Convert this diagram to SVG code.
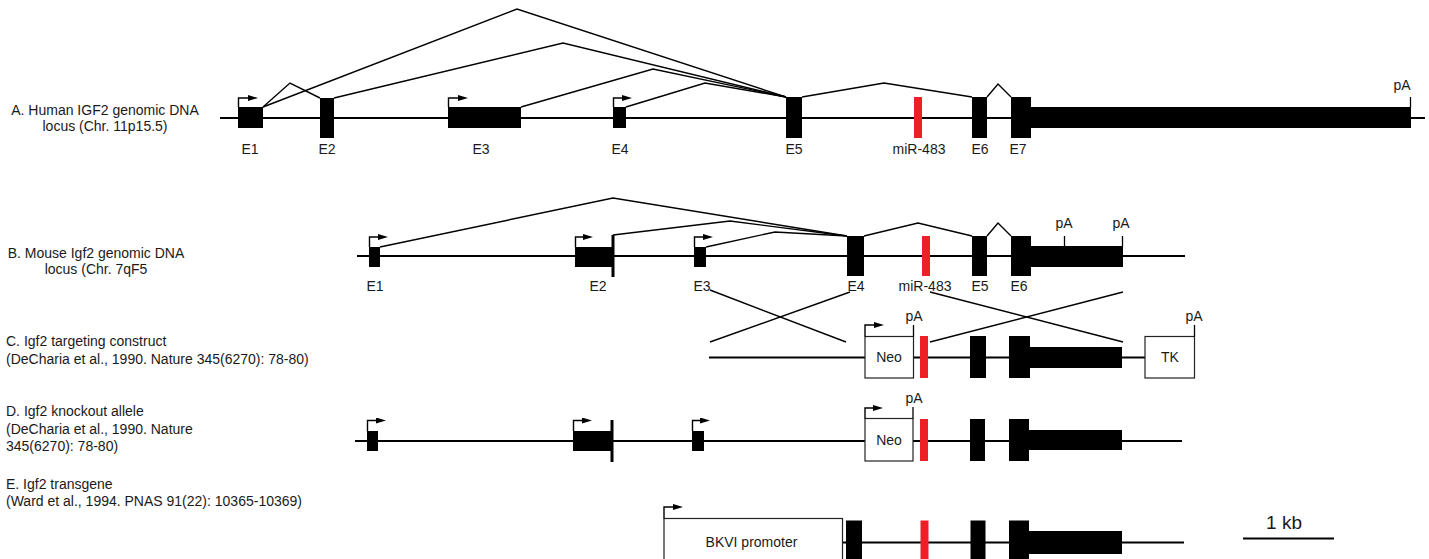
<svg xmlns="http://www.w3.org/2000/svg" width="1429" height="559" viewBox="0 0 1429 559">
<defs>
<marker id="ah" markerUnits="userSpaceOnUse" markerWidth="10" markerHeight="6" viewBox="0 0 10 6" refX="0" refY="3" orient="auto">
<path d="M0,0 L10,3 L0,6 z" fill="#000"/>
</marker>
<style>
.bb{fill:#000}
.mir{fill:#ee2027}
.ln{stroke:#000;stroke-width:2;fill:none}
.sp{stroke:#000;stroke-width:1.4;fill:none;stroke-linejoin:miter}
.tick{stroke:#000;stroke-width:1.3;fill:none}
.bar{stroke:#000;stroke-width:3;fill:none}
.arr{stroke:#000;stroke-width:1.4;fill:none;marker-end:url(#ah)}
.box{fill:#fff;stroke:#222;stroke-width:1.2}
.t{font-family:"Liberation Sans",Arial,sans-serif;font-size:14px;fill:#1a1a1a}
.m{text-anchor:middle}
</style>
</defs>
<rect width="1429" height="559" fill="#fff"/>

<!-- Row labels -->
<g id="label-A"><text class="t m" x="105" y="115">A. Human IGF2 genomic DNA</text><text class="t m" x="105" y="131">locus (Chr. 11p15.5)</text></g>
<g id="label-B"><text class="t m" x="96" y="258">B. Mouse Igf2 genomic DNA</text><text class="t m" x="96" y="274">locus (Chr. 7qF5</text></g>
<g id="label-C"><text class="t" x="6" y="346">C. Igf2 targeting construct</text><text class="t" x="6" y="364">(DeCharia et al., 1990. Nature 345(6270): 78-80)</text></g>
<g id="label-D"><text class="t" x="6" y="416">D. Igf2 knockout allele</text><text class="t" x="6" y="433.5">(DeCharia et al., 1990. Nature</text><text class="t" x="6" y="451">345(6270): 78-80)</text></g>
<g id="label-E"><text class="t" x="6" y="488.5">E. Igf2 transgene</text><text class="t" x="6" y="506">(Ward et al., 1994. PNAS 91(22): 10365-10369)</text></g>

<!-- Connectors: splicing and recombination lines -->
<g id="connectors">
<path class="sp" d="M263,107 L290,83 L320,98"/>
<path class="sp" d="M263,107 L517,9 L786,97"/>
<path class="sp" d="M334,98 L563,43 L786,97"/>
<path class="sp" d="M521,107 L653,69 L786,97"/>
<path class="sp" d="M626,107 L705,83 L786,97"/>
<path class="sp" d="M802,97 L884,83 L972,97"/>
<path class="sp" d="M987,97 L998,84 L1011,97"/>
<path class="sp" d="M380,247 L613,198 L847,236"/>
<path class="sp" d="M613,235 L730,221 L847,236"/>
<path class="sp" d="M706,247 L775,232 L847,236"/>
<path class="sp" d="M864,236 L918,223 L972,236"/>
<path class="sp" d="M987,236 L998,223 L1011,236"/>
<path class="sp" d="M710,290 L846,342"/>
<path class="sp" d="M850,292 L710,342"/>
<path class="sp" d="M930,292 L1123,342"/>
<path class="sp" d="M1123,292 L930,342"/>
</g>

<!-- Row A -->
<g id="rowA">
<line class="ln" x1="220" y1="118" x2="1425" y2="118"/>
<g id="A-E1"><rect class="bb" x="238" y="107" width="25" height="21"/><path class="arr" d="M238.5,107 V98 H248"/><text class="t m" x="250" y="154">E1</text></g>
<g id="A-E2"><rect class="bb" x="320" y="98" width="14" height="40"/><text class="t m" x="327" y="154">E2</text></g>
<g id="A-E3"><rect class="bb" x="448" y="107" width="73" height="21"/><path class="arr" d="M448.5,107 V98 H458"/><text class="t m" x="481" y="154">E3</text></g>
<g id="A-E4"><rect class="bb" x="613" y="107" width="13" height="21"/><path class="arr" d="M613.5,107 V98 H622"/><text class="t m" x="620" y="154">E4</text></g>
<g id="A-E5"><rect class="bb" x="786" y="97" width="16" height="41"/><text class="t m" x="794" y="154">E5</text></g>
<g id="A-miR"><rect class="mir" x="914" y="97" width="8" height="41"/><text class="t m" x="919" y="154">miR-483</text></g>
<g id="A-E6"><rect class="bb" x="972" y="97" width="15" height="41"/><text class="t m" x="980" y="154">E6</text></g>
<g id="A-E7"><rect class="bb" x="1011" y="97" width="20" height="41"/><rect class="bb" x="1030" y="107" width="381" height="21"/><text class="t m" x="1018" y="154">E7</text></g>
<g id="A-pA"><line class="tick" x1="1410.5" y1="97" x2="1410.5" y2="108"/><text class="t m" x="1402" y="90">pA</text></g>
</g>

<!-- Row B -->
<g id="rowB">
<line class="ln" x1="357" y1="256" x2="1185" y2="256"/>
<g id="B-E1"><rect class="bb" x="369" y="247" width="11" height="20"/><path class="arr" d="M369.5,247 V237 H378"/><text class="t m" x="375" y="291">E1</text></g>
<g id="B-E2"><rect class="bb" x="575" y="247" width="37" height="20"/><line class="bar" x1="613" y1="235" x2="613" y2="277"/><path class="arr" d="M575.5,247 V237 H583"/><text class="t m" x="598" y="291">E2</text></g>
<g id="B-E3"><rect class="bb" x="694" y="247" width="12" height="20"/><path class="arr" d="M694.5,247 V237 H703"/><text class="t m" x="702" y="291">E3</text></g>
<g id="B-E4"><rect class="bb" x="847" y="236" width="17" height="40"/><text class="t m" x="856" y="291">E4</text></g>
<g id="B-miR"><rect class="mir" x="922" y="236" width="8" height="40"/><text class="t m" x="925" y="291">miR-483</text></g>
<g id="B-E5"><rect class="bb" x="972" y="236" width="15" height="40"/><text class="t m" x="980" y="291">E5</text></g>
<g id="B-E6"><rect class="bb" x="1011" y="236" width="20" height="40"/><rect class="bb" x="1030" y="246" width="93" height="21"/><text class="t m" x="1019" y="291">E6</text></g>
<g id="B-pA1"><line class="tick" x1="1064.5" y1="236" x2="1064.5" y2="247"/><text class="t m" x="1064" y="228">pA</text></g>
<g id="B-pA2"><line class="tick" x1="1122.5" y1="236" x2="1122.5" y2="247"/><text class="t m" x="1121" y="228">pA</text></g>
</g>

<!-- Row C -->
<g id="rowC">
<line class="ln" x1="709" y1="357.5" x2="1145" y2="357.5"/>
<g id="C-Neo"><rect class="box" x="865" y="336.5" width="48.5" height="41.5"/><text class="t m" x="889" y="362">Neo</text><path class="arr" d="M865,336.5 V325 H874"/><line class="tick" x1="913.5" y1="336.5" x2="913.5" y2="325"/><text class="t m" x="914" y="320.5">pA</text></g>
<g id="C-miR"><rect class="mir" x="920" y="336" width="8" height="42"/></g>
<g id="C-E5"><rect class="bb" x="970" y="336" width="16" height="42"/></g>
<g id="C-E6"><rect class="bb" x="1009" y="336" width="21" height="42"/><rect class="bb" x="1029" y="347" width="93" height="21"/></g>
<g id="C-TK"><rect class="box" x="1145" y="336.5" width="49.5" height="41.5"/><text class="t m" x="1170" y="362">TK</text><line class="tick" x1="1194.5" y1="336.5" x2="1194.5" y2="325"/><text class="t m" x="1194" y="320.5">pA</text></g>
</g>

<!-- Row D -->
<g id="rowD">
<line class="ln" x1="355" y1="441" x2="1182" y2="441"/>
<g id="D-E1"><rect class="bb" x="367" y="431" width="11" height="20"/><path class="arr" d="M367.5,431 V420.5 H376"/></g>
<g id="D-E2"><rect class="bb" x="573" y="431" width="38" height="20"/><line class="bar" x1="612" y1="420" x2="612" y2="462"/><path class="arr" d="M573.5,431 V420.5 H582"/></g>
<g id="D-E3"><rect class="bb" x="692" y="431" width="12" height="20"/><path class="arr" d="M692.5,431 V420.5 H700"/></g>
<g id="D-Neo"><rect class="box" x="865" y="418.5" width="48" height="42.5"/><text class="t m" x="889" y="445">Neo</text><path class="arr" d="M865,418.5 V408 H873"/><line class="tick" x1="913" y1="418.5" x2="913" y2="407"/><text class="t m" x="914" y="403">pA</text></g>
<g id="D-miR"><rect class="mir" x="920" y="419" width="8" height="42"/></g>
<g id="D-E5"><rect class="bb" x="970" y="419" width="15" height="42"/></g>
<g id="D-E6"><rect class="bb" x="1009" y="419" width="20" height="42"/><rect class="bb" x="1028" y="430" width="94" height="20"/></g>
</g>

<!-- Row E -->
<g id="rowE">
<line class="ln" x1="842" y1="542.5" x2="1184" y2="542.5"/>
<g id="E-BKVI"><rect class="box" x="664" y="518.5" width="178.5" height="60"/><text class="t m" x="751.5" y="547">BKVI promoter</text><path class="arr" d="M664,518.5 V507 H673"/></g>
<g id="E-E4"><rect class="bb" x="846" y="520.5" width="16" height="50"/></g>
<g id="E-miR"><rect class="mir" x="920.5" y="520.5" width="8" height="50"/></g>
<g id="E-E5"><rect class="bb" x="970.5" y="520.5" width="15" height="50"/></g>
<g id="E-E6"><rect class="bb" x="1009" y="520.5" width="20" height="50"/><rect class="bb" x="1028" y="531" width="94" height="23"/></g>
</g>

<!-- Scale bar -->
<g id="scalebar"><line x1="1243" y1="538.5" x2="1334" y2="538.5" stroke="#000" stroke-width="2"/><text class="t m" x="1284" y="529" style="font-size:19px">1 kb</text></g>
</svg>
